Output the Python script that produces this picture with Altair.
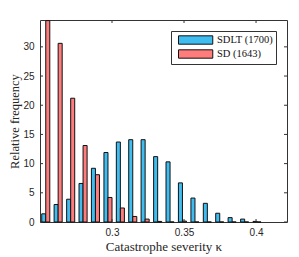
import altair as alt
import pandas as pd

# bin centres (catastrophe severity kappa)
centers = [0.2540, 0.2626, 0.2713, 0.2799, 0.2885, 0.2972, 0.3058, 0.3144, 0.3230,
           0.3317, 0.3403, 0.3489, 0.3576, 0.3662, 0.3748, 0.3834, 0.3921, 0.4007]
sdlt = [1.4, 3.0, 3.9, 6.6, 9.2, 11.9, 13.7, 14.1, 14.1, 11.2, 10.3, 6.7, 4.1, 3.2,
        1.5, 0.75, 0.5, 0.1]
sd = [34.5, 30.6, 21.2, 13.1, 8.1, 4.2, 2.4, 0.95, 0.5, 0.1, 0.0, 0.15, 0.0, 0.0,
      0.0, 0.0, 0.0, 0.0]
series = ["SDLT (1700)", "SD (1643)"]
colors = ["#3FBDF0", "#FF7C7C"]
x_ticks = [0.3, 0.35, 0.4]
y_ticks = [0, 5, 10, 15, 20, 25, 30]

rows = []
for c, v in zip(centers, sdlt):
    rows.append({"center": c, "series": series[0], "side": -1, "value": v})
for c, v in zip(centers, sd):
    rows.append({"center": c, "series": series[1], "side": 1, "value": v})
df = pd.DataFrame(rows)

W, H = 247, 202
BW = 0.0028
xscale = alt.Scale(domain=[0.25, 0.4215], nice=False, zero=False)
yscale = alt.Scale(domain=[0, 34.6], nice=False)
sans = "Liberation Sans"
serif = "Liberation Serif"

x_axis = alt.Axis(values=x_ticks, format="~g", title="Catastrophe severity κ",
                  domain=False, ticks=False, grid=False, labelPadding=5,
                  titlePadding=3, labelFont=sans, labelFontSize=10,
                  labelColor="#262626", titleFont=serif, titleFontSize=13,
                  titleFontWeight="normal", titleColor="#262626")
y_axis = alt.Axis(values=y_ticks, title="Relative frequency", domain=False,
                  ticks=False, grid=False, labelPadding=6, titlePadding=1,
                  labelFont=sans, labelFontSize=10, labelColor="#262626",
                  titleFont=serif, titleFontSize=12.5, titleFontWeight="normal",
                  titleColor="#262626")

bars = alt.Chart(df).transform_calculate(
    xa=f"datum.side < 0 ? datum.center - {BW} : datum.center",
    xb=f"datum.side < 0 ? datum.center : datum.center + {BW}",
).mark_bar(stroke="#111111", strokeWidth=1).encode(
    x=alt.X("xa:Q", scale=xscale, axis=x_axis),
    x2="xb:Q",
    y=alt.Y("value:Q", scale=yscale, axis=y_axis),
    y2=alt.datum(0),
    color=alt.Color("series:N", scale=alt.Scale(domain=series, range=colors),
                    legend=alt.Legend(
                        title=None, orient="none", legendX=131, legendY=11,
                        symbolType="M-0.27,-0.76H5.96V0.76H-0.27Z", symbolSize=121,
                        symbolStrokeColor="#111111", symbolStrokeWidth=1,
                        symbolOpacity=1, labelOffset=31, labelFont=serif,
                        labelFontSize=10.5, labelColor="#111111", rowPadding=0,
                        padding=3, strokeColor="#333333", fillColor="white")),
)

xt = pd.DataFrame({"v": x_ticks})
yt = pd.DataFrame({"v": y_ticks})
tick_col = "#333333"
top_ticks = alt.Chart(xt).mark_rule(color=tick_col).encode(
    x=alt.X("v:Q", scale=xscale, axis=x_axis), y=alt.value(0), y2=alt.value(3))
bot_ticks = alt.Chart(xt).mark_rule(color=tick_col).encode(
    x=alt.X("v:Q", scale=xscale, axis=x_axis), y=alt.value(H - 3), y2=alt.value(H))
left_ticks = alt.Chart(yt).mark_rule(color=tick_col).encode(
    y=alt.Y("v:Q", scale=yscale, axis=y_axis), x=alt.value(0), x2=alt.value(3))
right_ticks = alt.Chart(yt).mark_rule(color=tick_col).encode(
    y=alt.Y("v:Q", scale=yscale, axis=y_axis), x=alt.value(W - 3), x2=alt.value(W))

chart = alt.layer(bars, top_ticks, bot_ticks, left_ticks, right_ticks).properties(
    width=W, height=H,
    autosize=alt.AutoSizeParams(type="none"),
    padding={"left": 32, "top": 12, "right": 4, "bottom": 34},
    background="white",
).configure_view(stroke="#333333", strokeWidth=1)

chart.save("out.html", embed_options={"renderer": "svg", "actions": False})
